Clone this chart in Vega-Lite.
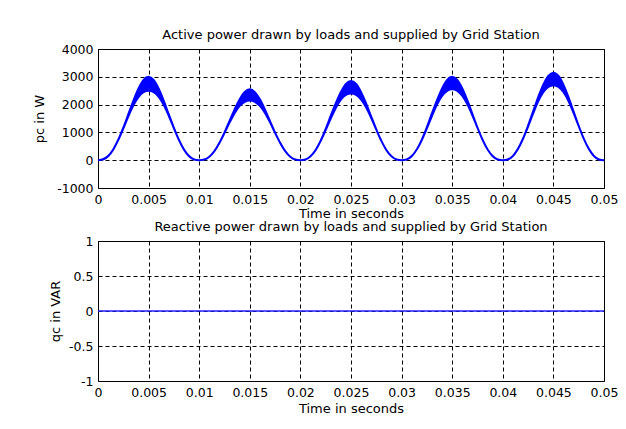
{
  "$schema": "https://vega.github.io/schema/vega-lite/v6.json",
  "background": "white",
  "padding": {"left": 33, "top": 28, "right": 5, "bottom": 10},
  "datasets": {
    "p": [
      {"t": 0.0, "lo": 0, "hi": 0},
      {"t": 0.0005, "lo": 20, "hi": 40},
      {"t": 0.001, "lo": 140, "hi": 150},
      {"t": 0.0015, "lo": 378, "hi": 386},
      {"t": 0.002, "lo": 722, "hi": 735},
      {"t": 0.0025, "lo": 1140, "hi": 1170},
      {"t": 0.003, "lo": 1580, "hi": 1655},
      {"t": 0.0035, "lo": 1975, "hi": 2145},
      {"t": 0.004, "lo": 2270, "hi": 2580},
      {"t": 0.0045, "lo": 2445, "hi": 2890},
      {"t": 0.005, "lo": 2500, "hi": 3000},
      {"t": 0.0055, "lo": 2445, "hi": 2885},
      {"t": 0.006, "lo": 2274, "hi": 2570},
      {"t": 0.0065, "lo": 1982, "hi": 2135},
      {"t": 0.007, "lo": 1589, "hi": 1645},
      {"t": 0.0075, "lo": 1148, "hi": 1164},
      {"t": 0.008, "lo": 727, "hi": 730},
      {"t": 0.0085, "lo": 380, "hi": 384},
      {"t": 0.009, "lo": 144, "hi": 148},
      {"t": 0.0095, "lo": 25, "hi": 29},
      {"t": 0.01, "lo": 0, "hi": 0},
      {"t": 0.0105, "lo": 21, "hi": 25},
      {"t": 0.011, "lo": 123, "hi": 127},
      {"t": 0.0115, "lo": 324, "hi": 328},
      {"t": 0.012, "lo": 618, "hi": 628},
      {"t": 0.0125, "lo": 975, "hi": 1000},
      {"t": 0.013, "lo": 1350, "hi": 1415},
      {"t": 0.0135, "lo": 1690, "hi": 1830},
      {"t": 0.014, "lo": 1952, "hi": 2194},
      {"t": 0.0145, "lo": 2101, "hi": 2455},
      {"t": 0.015, "lo": 2150, "hi": 2550},
      {"t": 0.0155, "lo": 2101, "hi": 2450},
      {"t": 0.016, "lo": 1952, "hi": 2190},
      {"t": 0.0165, "lo": 1698, "hi": 1820},
      {"t": 0.017, "lo": 1359, "hi": 1405},
      {"t": 0.0175, "lo": 982, "hi": 994},
      {"t": 0.018, "lo": 622, "hi": 624},
      {"t": 0.0185, "lo": 324, "hi": 328},
      {"t": 0.019, "lo": 123, "hi": 127},
      {"t": 0.0195, "lo": 21, "hi": 25},
      {"t": 0.02, "lo": 0, "hi": 0},
      {"t": 0.0205, "lo": 23, "hi": 27},
      {"t": 0.021, "lo": 137, "hi": 141},
      {"t": 0.0215, "lo": 362, "hi": 366},
      {"t": 0.022, "lo": 688, "hi": 702},
      {"t": 0.0225, "lo": 1085, "hi": 1125},
      {"t": 0.023, "lo": 1500, "hi": 1600},
      {"t": 0.0235, "lo": 1880, "hi": 2050},
      {"t": 0.024, "lo": 2179, "hi": 2451},
      {"t": 0.0245, "lo": 2346, "hi": 2744},
      {"t": 0.025, "lo": 2400, "hi": 2850},
      {"t": 0.0255, "lo": 2346, "hi": 2740},
      {"t": 0.026, "lo": 2179, "hi": 2445},
      {"t": 0.0265, "lo": 1896, "hi": 2035},
      {"t": 0.027, "lo": 1518, "hi": 1570},
      {"t": 0.0275, "lo": 1097, "hi": 1111},
      {"t": 0.028, "lo": 694, "hi": 696},
      {"t": 0.0285, "lo": 362, "hi": 366},
      {"t": 0.029, "lo": 137, "hi": 141},
      {"t": 0.0295, "lo": 23, "hi": 27},
      {"t": 0.03, "lo": 0, "hi": 0},
      {"t": 0.0305, "lo": 25, "hi": 29},
      {"t": 0.031, "lo": 145, "hi": 149},
      {"t": 0.0315, "lo": 383, "hi": 387},
      {"t": 0.032, "lo": 728, "hi": 742},
      {"t": 0.0325, "lo": 1145, "hi": 1190},
      {"t": 0.033, "lo": 1590, "hi": 1690},
      {"t": 0.0335, "lo": 2000, "hi": 2165},
      {"t": 0.034, "lo": 2312, "hi": 2584},
      {"t": 0.0345, "lo": 2491, "hi": 2889},
      {"t": 0.035, "lo": 2550, "hi": 3000},
      {"t": 0.0355, "lo": 2491, "hi": 2885},
      {"t": 0.036, "lo": 2312, "hi": 2580},
      {"t": 0.0365, "lo": 2009, "hi": 2150},
      {"t": 0.037, "lo": 1607, "hi": 1660},
      {"t": 0.0375, "lo": 1160, "hi": 1174},
      {"t": 0.038, "lo": 734, "hi": 736},
      {"t": 0.0385, "lo": 383, "hi": 387},
      {"t": 0.039, "lo": 145, "hi": 149},
      {"t": 0.0395, "lo": 25, "hi": 29},
      {"t": 0.04, "lo": 0, "hi": 0},
      {"t": 0.0405, "lo": 26, "hi": 30},
      {"t": 0.041, "lo": 153, "hi": 157},
      {"t": 0.0415, "lo": 404, "hi": 408},
      {"t": 0.042, "lo": 768, "hi": 782},
      {"t": 0.0425, "lo": 1210, "hi": 1250},
      {"t": 0.043, "lo": 1680, "hi": 1765},
      {"t": 0.0435, "lo": 2115, "hi": 2270},
      {"t": 0.044, "lo": 2444, "hi": 2716},
      {"t": 0.0445, "lo": 2637, "hi": 3035},
      {"t": 0.045, "lo": 2700, "hi": 3150},
      {"t": 0.0455, "lo": 2637, "hi": 3030},
      {"t": 0.046, "lo": 2444, "hi": 2710},
      {"t": 0.0465, "lo": 2121, "hi": 2260},
      {"t": 0.047, "lo": 1695, "hi": 1748},
      {"t": 0.0475, "lo": 1223, "hi": 1237},
      {"t": 0.048, "lo": 774, "hi": 776},
      {"t": 0.0485, "lo": 404, "hi": 408},
      {"t": 0.049, "lo": 153, "hi": 157},
      {"t": 0.0495, "lo": 26, "hi": 30},
      {"t": 0.05, "lo": 0, "hi": 0}
    ],
    "q": [
      {"t": 0.0, "q": 0},
      {"t": 0.05, "q": 0}
    ]
  },
  "vconcat": [
    {
      "width": 506,
      "height": 139,
      "title": {"text": "Active power drawn by loads and supplied by Grid Station"},
      "data": {"name": "p"},
      "mark": {"type": "area", "color": "#0000ff", "stroke": "#0000ff", "strokeWidth": 2, "interpolate": "monotone", "clip": true},
      "encoding": {
        "x": {
          "field": "t", "type": "quantitative",
          "scale": {"domain": [0, 0.05], "nice": false, "zero": false},
          "axis": {"title": "Time in seconds", "values": [0, 0.005, 0.01, 0.015, 0.02, 0.025, 0.03, 0.035, 0.04, 0.045, 0.05], "format": "~g", "titlePadding": 2}
        },
        "y": {
          "field": "lo", "type": "quantitative",
          "scale": {"domain": [-1000, 4000], "nice": false, "zero": false},
          "axis": {"title": "pc in W", "values": [-1000, 0, 1000, 2000, 3000, 4000], "format": "d", "titlePadding": 10}
        },
        "y2": {"field": "hi"}
      }
    },
    {
      "width": 506,
      "height": 140,
      "title": {"text": "Reactive power drawn by loads and supplied by Grid Station"},
      "data": {"name": "q"},
      "mark": {"type": "line", "color": "#2020ff", "strokeWidth": 1.5},
      "encoding": {
        "x": {
          "field": "t", "type": "quantitative",
          "scale": {"domain": [0, 0.05], "nice": false, "zero": false},
          "axis": {"title": "Time in seconds", "values": [0, 0.005, 0.01, 0.015, 0.02, 0.025, 0.03, 0.035, 0.04, 0.045, 0.05], "format": "~g"}
        },
        "y": {
          "field": "q", "type": "quantitative",
          "scale": {"domain": [-1, 1], "nice": false, "zero": false},
          "axis": {"title": "qc in VAR", "values": [-1, -0.5, 0, 0.5, 1], "format": "~g", "titlePadding": 6}
        }
      }
    }
  ],
  "spacing": 53,
  "bounds": "flush",
  "config": {
    "locale": {"number": {"decimal": ".", "thousands": ",", "grouping": [3], "currency": ["$", ""], "minus": "-"}},
    "font": "DejaVu Sans",
    "view": {"stroke": "black", "strokeWidth": 1},
    "title": {"font": "DejaVu Sans", "fontSize": 13, "fontWeight": "normal", "color": "black", "baseline": "alphabetic", "offset": 1, "anchor": "middle"},
    "axis": {
      "domain": false,
      "ticks": false,
      "grid": true,
      "gridColor": "black",
      "gridDash": [4, 3],
      "gridOpacity": 1,
      "gridWidth": 1,
      "labelFont": "DejaVu Sans",
      "labelFontSize": 12.5,
      "labelColor": "black",
      "labelPadding": 5,
      "labelFlush": false,
      "labelOverlap": false,
      "titleFont": "DejaVu Sans",
      "titleFontSize": 13,
      "titleFontWeight": "normal",
      "titleColor": "black"
    },
    "axisX": {"titlePadding": 4},
    "axisY": {"labelPadding": 5}
  }
}
